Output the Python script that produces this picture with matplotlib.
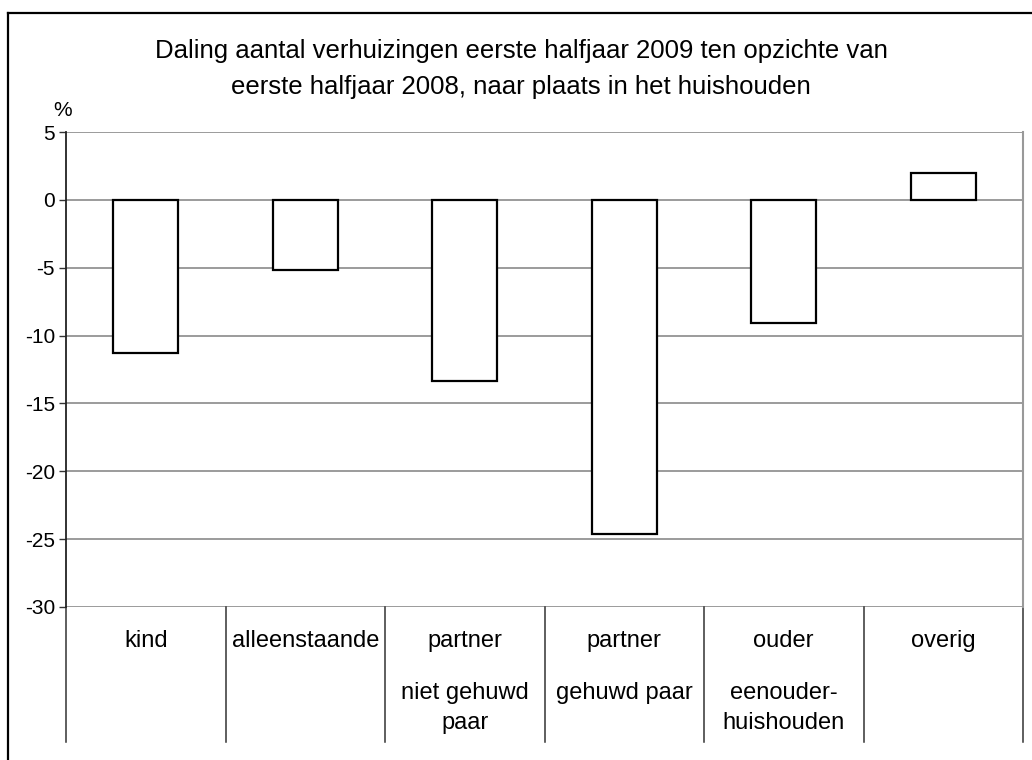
import matplotlib.pyplot as plt
import matplotlib.transforms as mtransforms
import numpy as np

plt.rcParams['font.family'] = ['Liberation Sans', 'DejaVu Sans']

# data
categories = ['kind', 'alleenstaande', 'partner', 'partner', 'ouder', 'overig']
sublabels = ['', '', 'niet gehuwd\npaar', 'gehuwd paar', 'eenouder-\nhuishouden', '']
values = [-11.25, -5.2, -13.35, -24.6, -9.1, 1.95]
yticks = [5, 0, -5, -10, -15, -20, -25, -30]

W, H = 1032, 760
fig = plt.figure(figsize=(W / 100, H / 100), dpi=100)

# outer frame (cut off at right and bottom, like the original screenshot)
fig.add_artist(plt.Line2D([8 / W, 8 / W], [0, 1 - 13 / H], color='black', lw=1.6, transform=fig.transFigure))
fig.add_artist(plt.Line2D([8 / W, 1], [1 - 13 / H, 1 - 13 / H], color='black', lw=1.6, transform=fig.transFigure))

left, right, top, bottom = 66, 1023, 132, 607
ah = bottom - top
ax = fig.add_axes([left / W, 1 - bottom / H, (right - left) / W, ah / H])

x = np.arange(len(values)) + 0.5
ax.bar(x, values, width=0.41, color='white', edgecolor='black', linewidth=1.6, zorder=3)

ax.set_xlim(0, len(values))
ax.set_ylim(-30, 5)
ax.set_yticks(yticks)
ax.set_yticklabels([str(t) for t in yticks], fontsize=15)
ax.tick_params(axis='y', length=5, width=1, color='#333333', pad=3)
ax.set_xticks([])
for t in yticks:
    ax.axhline(t, color='#808080', lw=1.1, zorder=1)

for s in ['top', 'bottom']:
    ax.spines[s].set_visible(False)
ax.spines['right'].set_color('#999999')
ax.spines['right'].set_linewidth(1.5)
ax.spines['left'].set_color('#222222')
ax.spines['left'].set_linewidth(1.3)

# category separators running under the plot
trans = mtransforms.blended_transform_factory(ax.transData, ax.transAxes)
for b in range(len(values) + 1):
    ax.plot([b, b], [0, -(742 - bottom) / ah], color='#333333', lw=1.1, transform=trans, clip_on=False)

for i, (c, s) in enumerate(zip(categories, sublabels)):
    ax.text(x[i], -(641 - bottom) / ah, c, transform=trans, ha='center', va='center', fontsize=17)
    for k, line in enumerate(s.split('\n') if s else []):
        ax.text(x[i], -(693 + 30 * k - bottom) / ah, line, transform=trans, ha='center', va='center', fontsize=17)

ax.text(-0.004, 1 + (top - 110) / ah, '%', transform=ax.transAxes, ha='center', va='center', fontsize=15)

fig.text(0.505, 1 - 69 / H, 'Daling aantal verhuizingen eerste halfjaar 2009 ten opzichte van\n'
         'eerste halfjaar 2008, naar plaats in het huishouden',
         ha='center', va='center', fontsize=18.5, linespacing=1.6)

fig.savefig('out.png', dpi=100)
